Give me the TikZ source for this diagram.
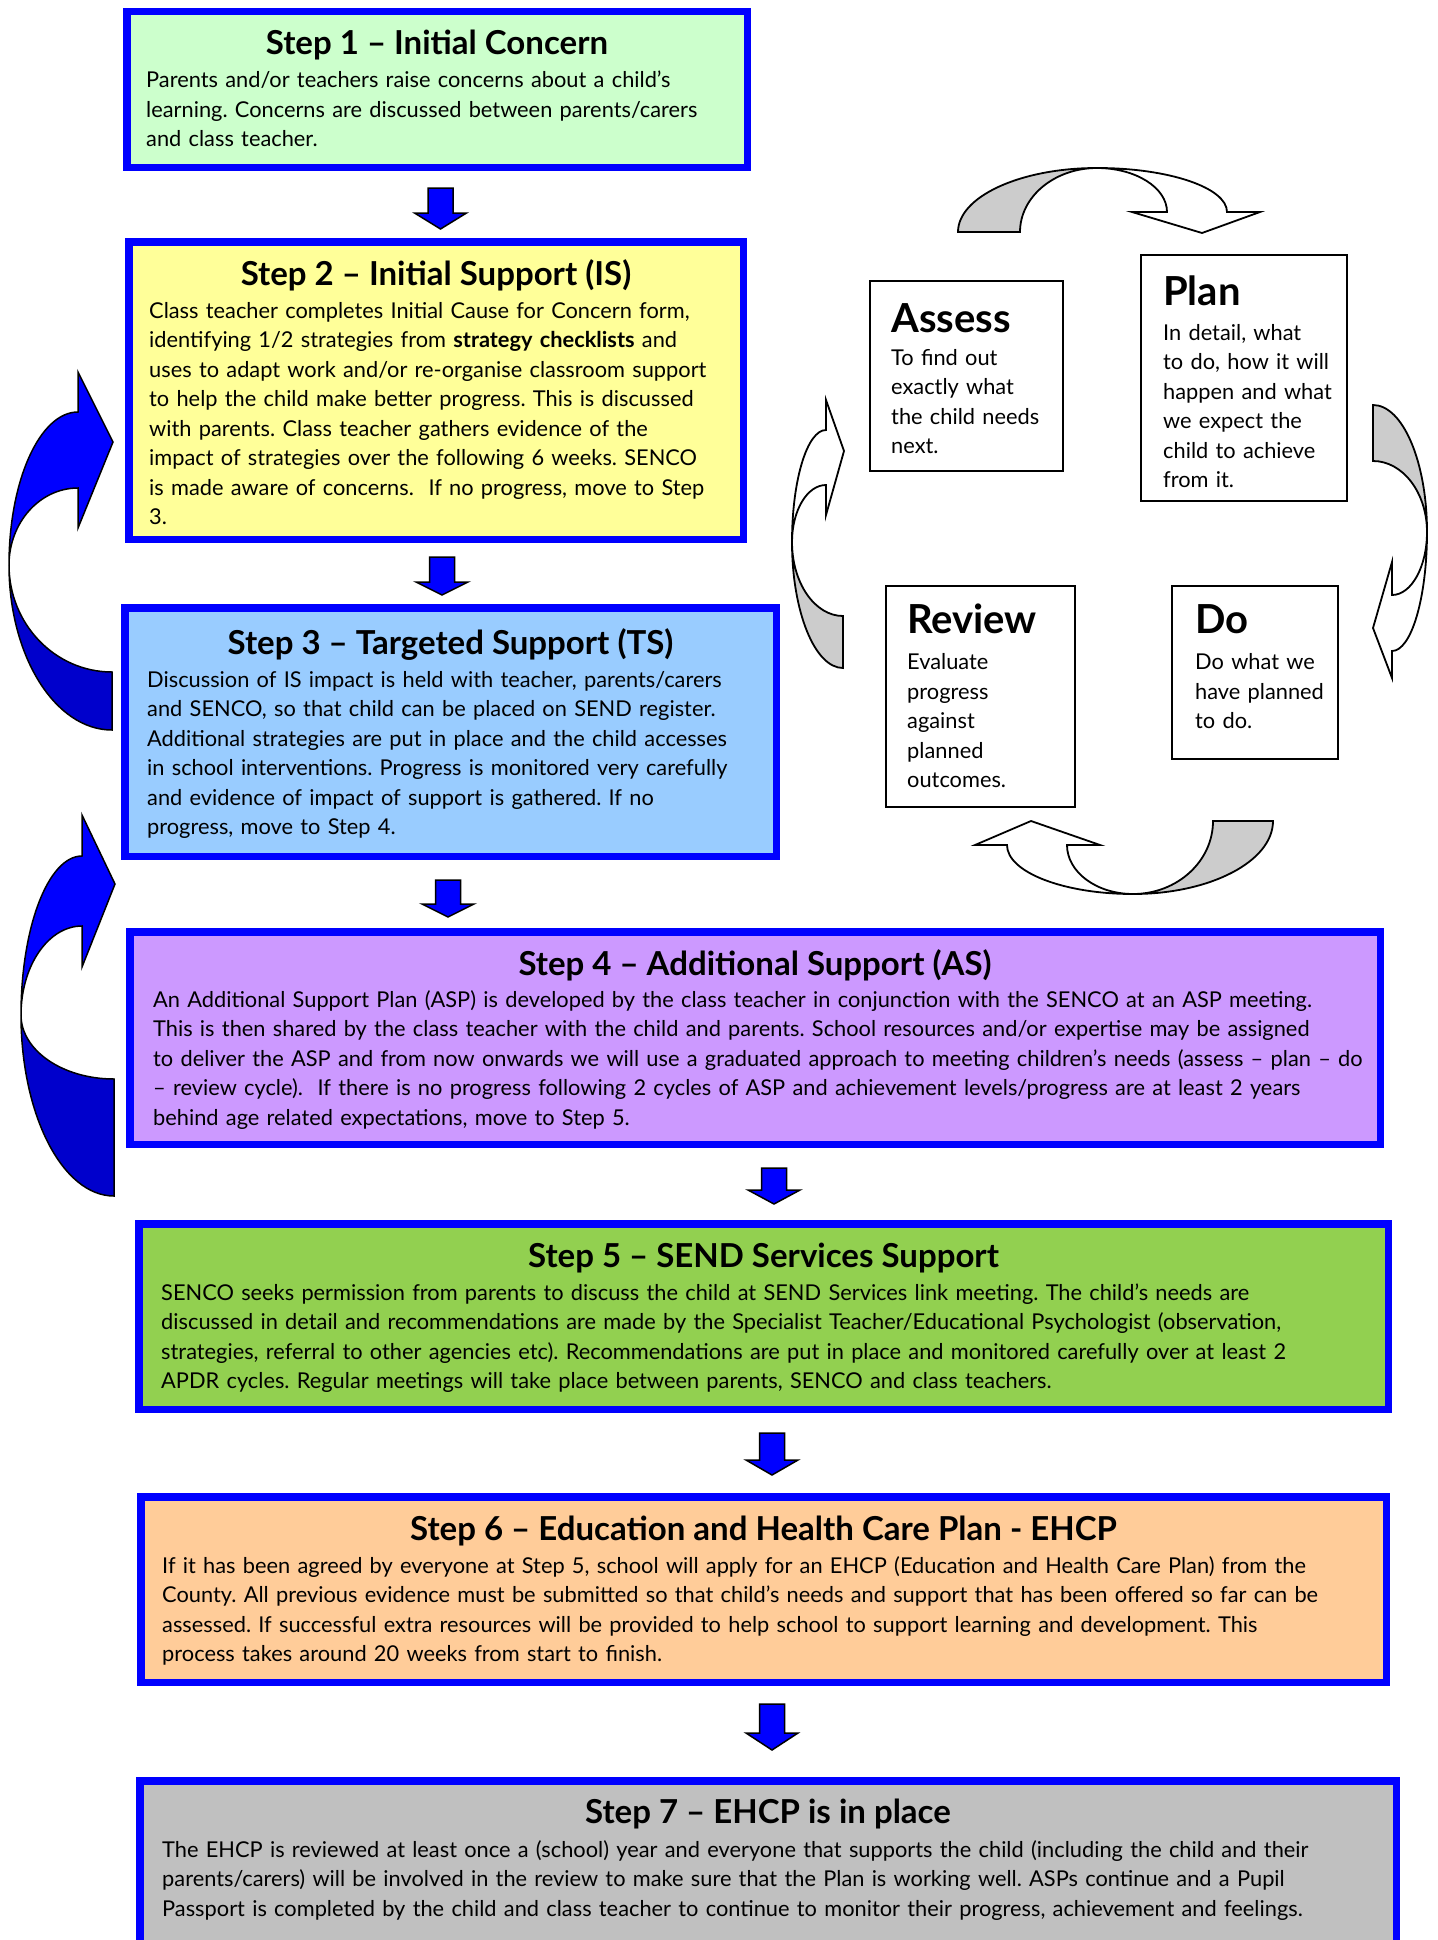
\documentclass[tikz,border=0pt]{standalone}
\usepackage{fontspec}
\setmainfont{Lato}
\frenchspacing
\definecolor{stepblue}{HTML}{0000FF}
\definecolor{fillA}{HTML}{CCFFCC}
\definecolor{fillB}{HTML}{FFFF99}
\definecolor{fillC}{HTML}{99CCFF}
\definecolor{fillD}{HTML}{CC99FF}
\definecolor{fillE}{HTML}{92D050}
\definecolor{fillF}{HTML}{FFCC99}
\definecolor{fillG}{HTML}{C0C0C0}
\definecolor{facegray}{HTML}{CCCCCC}
\definecolor{blueA}{HTML}{0000FF}
\definecolor{blueB}{HTML}{0000CC}
\newcommand{\downblock}[4]{%
  \draw[blockarrow] (#1-12.5,#2) -- (#1+12.5,#2) -- (#1+12.5,#3) -- (#1+26,#3) -- (#1,#4) -- (#1-26,#3) -- (#1-12.5,#3) -- cycle;}
\tikzset{
  stepbox/.style={draw=stepblue, line width=7.5pt, inner sep=0pt, outer sep=0pt, anchor=north west},
  steptitle/.style={anchor=base, inner sep=0pt, font=\fontsize{33}{38}\selectfont\bfseries},
  stepbody/.style={anchor=base west, inner sep=0pt, align=left, text width=1250pt, font=\fontsize{21.8}{29.5}\selectfont\frenchspacing},
  cyclebox/.style={draw=black, line width=2pt, fill=white, inner sep=0pt, outer sep=0pt, anchor=north west},
  cycletitle/.style={anchor=base west, inner sep=0pt, font=\fontsize{40}{48}\selectfont\bfseries},
  cyclebody/.style={anchor=base west, inner sep=0pt, align=left, text width=200pt, font=\fontsize{21.8}{29.5}\selectfont},
  blockarrow/.style={fill=blueA, draw=black, line width=1.5pt, line join=miter},
  frontface/.style={fill=white, draw=black, line width=1.8pt, line join=miter},
  backface/.style={fill=facegray, draw=black, line width=1.8pt, line join=miter},
  bluefront/.style={fill=blueA, draw=black, line width=1.5pt, line join=miter},
  blueback/.style={fill=blueB, draw=black, line width=1.5pt, line join=miter},
}
\begin{document}
\begin{tikzpicture}[x=1pt, y=-1pt]
\useasboundingbox[fill=white] (0,0) rectangle (1437,1940);

% ---------- Step boxes ----------
\node[stepbox, fill=fillA, minimum width=620.5pt, minimum height=155.5pt] (s1box) at (126.75,11.75) {};
\node[stepbox, fill=fillB, minimum width=614.5pt, minimum height=297.5pt] (s2box) at (128.75,241.75) {};
\node[stepbox, fill=fillC, minimum width=651.5pt, minimum height=248.5pt] (s3box) at (124.75,607.75) {};
\node[stepbox, fill=fillD, minimum width=1250.5pt, minimum height=212.5pt] (s4box) at (129.75,931.75) {};
\node[stepbox, fill=fillE, minimum width=1249.5pt, minimum height=185.5pt] (s5box) at (138.75,1223.75) {};
\node[stepbox, fill=fillF, minimum width=1245.5pt, minimum height=185.5pt] (s6box) at (140.75,1496.75) {};
\node[stepbox, fill=fillG, minimum width=1256.5pt, minimum height=200pt] (s7box) at (139.75,1780.75) {};

% ---------- Step texts ----------
\node[steptitle] (s1title) at (437,55) {Step 1 – Initial Concern};
\node[stepbody] (s1body) at (146,88) {Parents and/or teachers raise concerns about a child’s\\
learning. Concerns are discussed between parents/carers\\
and class teacher.};

\node[steptitle] (s2title) at (436,285) {Step 2 – Initial Support (IS)};
\node[stepbody] (s2body) at (149,318) {Class teacher completes Initial Cause for Concern form,\\
identifying 1/2 strategies from \textbf{strategy checklists} and\\
uses to adapt work and/or re-organise classroom support\\
to help the child make better progress. This is discussed\\
with parents. Class teacher gathers evidence of the\\
impact of strategies over the following 6 weeks. SENCO\\
is made aware of concerns.\ \ If no progress, move to Step\\
3.};

\node[steptitle] (s3title) at (450.5,654) {Step 3 – Targeted Support (TS)};
\node[stepbody] (s3body) at (147,687) {Discussion of IS impact is held with teacher, parents/carers\\
and SENCO, so that child can be placed on SEND register.\\
Additional strategies are put in place and the child accesses\\
in school interventions. Progress is monitored very carefully\\
and evidence of impact of support is gathered. If no\\
progress, move to Step 4.};

\node[steptitle] (s4title) at (755,975) {Step 4 – Additional Support (AS)};
\node[stepbody] (s4body) at (153,1007) {An Additional Support Plan (ASP) is developed by the class teacher in conjunction with the SENCO at an ASP meeting.\\
This is then shared by the class teacher with the child and parents. School resources and/or expertise may be assigned\\
to deliver the ASP and from now onwards we will use a graduated approach to meeting children’s needs (assess – plan – do\\
– review cycle).\ \ If there is no progress following 2 cycles of ASP and achievement levels/progress are at least 2 years\\
behind age related expectations, move to Step 5.};

\node[steptitle] (s5title) at (763.5,1267) {Step 5 – SEND Services Support};
\node[stepbody] (s5body) at (161,1300) {SENCO seeks permission from parents to discuss the child at SEND Services link meeting. The child’s needs are\\
discussed in detail and recommendations are made by the Specialist Teacher/Educational Psychologist (observation,\\
strategies, referral to other agencies etc). Recommendations are put in place and monitored carefully over at least 2\\
APDR cycles. Regular meetings will take place between parents, SENCO and class teachers.};

\node[steptitle] (s6title) at (763.5,1540) {Step 6 – Education and Health Care Plan - EHCP};
\node[stepbody] (s6body) at (162,1573) {If it has been agreed by everyone at Step 5, school will apply for an EHCP (Education and Health Care Plan) from the\\
County. All previous evidence must be submitted so that child’s needs and support that has been offered so far can be\\
assessed. If successful extra resources will be provided to help school to support learning and development. This\\
process takes around 20 weeks from start to finish.};

\node[steptitle] (s7title) at (768,1823) {Step 7 – EHCP is in place};
\node[stepbody] (s7body) at (162,1857) {The EHCP is reviewed at least once a (school) year and everyone that supports the child (including the child and their\\
parents/carers) will be involved in the review to make sure that the Plan is working well. ASPs continue and a Pupil\\
Passport is completed by the child and class teacher to continue to monitor their progress, achievement and feelings.};

% ---------- Down block arrows ----------
\downblock{440.5}{188}{213}{229}
\downblock{442}{557}{582}{595}
\downblock{448}{880}{904}{917}
\downblock{774}{1168}{1190}{1204}
\downblock{772}{1433}{1460}{1475}
\downblock{772}{1704}{1733}{1750}

% ---------- Left blue curved arrows ----------
% upper
\draw[blueback] (9,565) .. controls (9,656.1) and (55.1,730) .. (112,730) -- (112,672)
  .. controls (55.1,672) and (9,624.1) .. (9,565) -- cycle;
\draw[bluefront] (9,565) .. controls (9,480.5) and (39.9,412) .. (78,412) -- (78,372) -- (113,442) -- (78,528) -- (78,488)
  .. controls (39.9,488) and (9,522.5) .. (9,565) -- cycle;
% lower
\draw[blueback] (21,1015) .. controls (21,1115) and (62.6,1196) .. (114,1196) -- (114,1079)
  .. controls (62.6,1079) and (21,1050.3) .. (21,1015) -- cycle;
\draw[bluefront] (21,1015) .. controls (21,927.2) and (48.3,856) .. (82,856) -- (82,815) -- (115,884) -- (82,967) -- (82,926)
  .. controls (48.3,926) and (21,965.8) .. (21,1015) -- cycle;

% ---------- Cycle boxes ----------
\node[cyclebox, minimum width=193pt, minimum height=190pt] (assessbox) at (870,281) {};
\node[cyclebox, minimum width=206pt, minimum height=246pt] (planbox) at (1141,255) {};
\node[cyclebox, minimum width=189pt, minimum height=221pt] (reviewbox) at (886,586) {};
\node[cyclebox, minimum width=166pt, minimum height=173pt] (dobox) at (1172,586) {};

\node[cycletitle] (assesstitle) at (891,332) {Assess};
\node[cyclebody] (assessbody) at (891,365) {To find out\\exactly what\\the child needs\\next.};
\node[cycletitle] (plantitle) at (1163,305) {Plan};
\node[cyclebody] (planbody) at (1163,340) {In detail, what\\to do, how it will\\happen and what\\we expect the\\child to achieve\\from it.};
\node[cycletitle] (reviewtitle) at (907,633) {Review};
\node[cyclebody] (reviewbody) at (907,669.5) {Evaluate\\progress\\against\\planned\\outcomes.};
\node[cycletitle] (dotitle) at (1195,633) {Do};
\node[cyclebody] (dobody) at (1195,669.5) {Do what we\\have planned\\to do.};

% ---------- Cycle arrows ----------
% top (Assess -> Plan)
\draw[backface] (958,232) .. controls (958,196.7) and (1020.2,168) .. (1097,168)
  .. controls (1054.5,168) and (1020,196.7) .. (1020,232) -- cycle;
\draw[frontface] (1097,168) .. controls (1168.8,168) and (1227,187.7) .. (1227,212) -- (1260,212) -- (1202,233) -- (1132,212) -- (1167,212)
  .. controls (1167,187.7) and (1135.7,168) .. (1097,168) -- cycle;
% right (Plan -> Do)
\draw[backface] (1373,405) .. controls (1402.8,405) and (1427,461.9) .. (1427,532)
  .. controls (1427,492.8) and (1402.8,461) .. (1373,461) -- cycle;
\draw[frontface] (1427,532) .. controls (1427,597.7) and (1411.3,651) .. (1392,651) -- (1392,678) -- (1373,628) -- (1392,562) -- (1392,595)
  .. controls (1411.3,595) and (1427,566.8) .. (1427,532) -- cycle;
% bottom (Do -> Review)
\draw[backface] (1273,821) .. controls (1273,861.3) and (1210.3,894) .. (1133,894)
  .. controls (1177.2,894) and (1213,861.3) .. (1213,821) -- cycle;
\draw[frontface] (1133,894) .. controls (1063.4,894) and (1007,872.1) .. (1007,845) -- (975,845) -- (1031,821) -- (1100,845) -- (1067,845)
  .. controls (1067,872.1) and (1096.5,894) .. (1133,894) -- cycle;
% left (Review -> Assess)
\draw[backface] (792,542) .. controls (792,611.6) and (814.8,668) .. (843,668) -- (843,616)
  .. controls (814.8,616) and (792,582.9) .. (792,542) -- cycle;
\draw[frontface] (792,542) .. controls (792,480.1) and (807.2,430) .. (826,430) -- (826,400) -- (844,451) -- (826,515) -- (826,485)
  .. controls (807.2,485) and (792,510.5) .. (792,542) -- cycle;
\end{tikzpicture}
\end{document}
